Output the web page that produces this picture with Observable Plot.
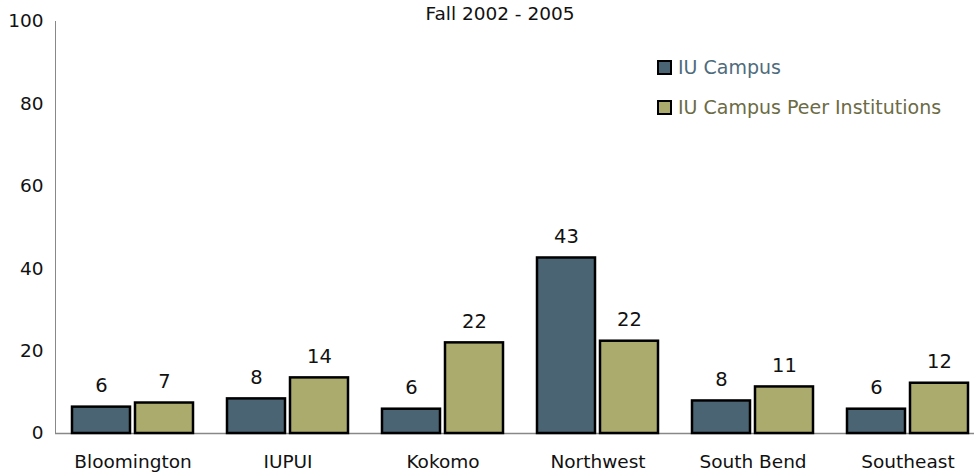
<!DOCTYPE html>
<html>
<head>
<meta charset="utf-8">
<script src="https://cdn.jsdelivr.net/npm/d3@7"></script>
<script src="https://cdn.jsdelivr.net/npm/@observablehq/plot@0.6"></script>
<style>
  html, body { margin: 0; padding: 0; background: #fff; }
  #wrap { position: relative; width: 974px; height: 474px; overflow: hidden; font-family: "DejaVu Sans", sans-serif; }
  #sub { position: absolute; left: 350px; width: 300px; top: 3px; text-align: center; font-size: 18.5px; line-height: 21px; color: #111; }
  .leg { position: absolute; left: 657px; font-size: 19px; line-height: 21px; white-space: nowrap; display: flex; align-items: center; }
  .sw { display: inline-block; width: 11px; height: 11px; border: 2px solid #000; margin-right: 6px; }
</style>
</head>
<body>
<div id="wrap">
  <div id="sub">Fall 2002 - 2005</div>
</div>
<script>
const campuses = ["Bloomington", "IUPUI", "Kokomo", "Northwest", "South Bend", "Southeast"];
const series = ["IU Campus", "IU Campus Peer Institutions"];
const iuCampus = [6.4, 8.4, 5.9, 42.6, 7.9, 5.9];
const peerInstitutions = [7.4, 13.5, 22.0, 22.4, 11.3, 12.2];
const iuLabels = ["6", "8", "6", "43", "8", "6"];
const peerLabels = ["7", "14", "22", "22", "11", "12"];
const yTicks = [0, 20, 40, 60, 80, 100];
const seriesColors = ["#4a6473", "#abab6e"];
const legendTextColors = ["#4e6b7c", "#6b6b45"];

const rows = campuses.flatMap((c, i) => [
  {campus: c, series: series[0], value: iuCampus[i], label: iuLabels[i]},
  {campus: c, series: series[1], value: peerInstitutions[i], label: peerLabels[i]}
]);

const chart = Plot.plot({
  width: 974,
  height: 474,
  marginTop: 21,
  marginBottom: 41,
  marginLeft: 55,
  marginRight: 0,
  style: {fontFamily: "DejaVu Sans, sans-serif", fontSize: "19px", color: "#111", background: "transparent"},
  fx: {domain: campuses, range: [55, 985], padding: 0, label: null, axis: null},
  x: {domain: series, paddingInner: 0.08, paddingOuter: 0.27, axis: null},
  y: {domain: [0, 100], label: null},
  color: {domain: series, range: seriesColors},
  marks: [
    Plot.axisFx({anchor: "bottom", tickSize: 0, tickPadding: 21, label: null, fontSize: 18.5}),
    Plot.axisY({ticks: yTicks, tickSize: 0, tickPadding: 12, label: null, fontSize: 18.5}),
    Plot.frame({anchor: "left", stroke: "#888", facetAnchor: "left"}),
    Plot.ruleY([0], {stroke: "#888", strokeWidth: 1.5}),
    Plot.barY(rows, {fx: "campus", x: "series", y: "value", fill: "series", stroke: "#000", strokeWidth: 2.5}),
    Plot.text(rows, {fx: "campus", x: "series", y: "value", text: "label", dy: -21, fill: "#111", fontSize: 19.5})
  ]
});
const wrap = document.getElementById("wrap");
wrap.insertBefore(chart, wrap.firstChild);
chart.style.position = "absolute";
chart.style.left = "0";
chart.style.top = "0";

const legendTops = [57, 97];
series.forEach((s, i) => {
  const d = document.createElement("div");
  d.className = "leg";
  d.style.top = legendTops[i] + "px";
  d.style.color = legendTextColors[i];
  const sw = document.createElement("span");
  sw.className = "sw";
  sw.style.background = seriesColors[i];
  d.appendChild(sw);
  d.appendChild(document.createTextNode(s));
  wrap.appendChild(d);
});
</script>
</body>
</html>
